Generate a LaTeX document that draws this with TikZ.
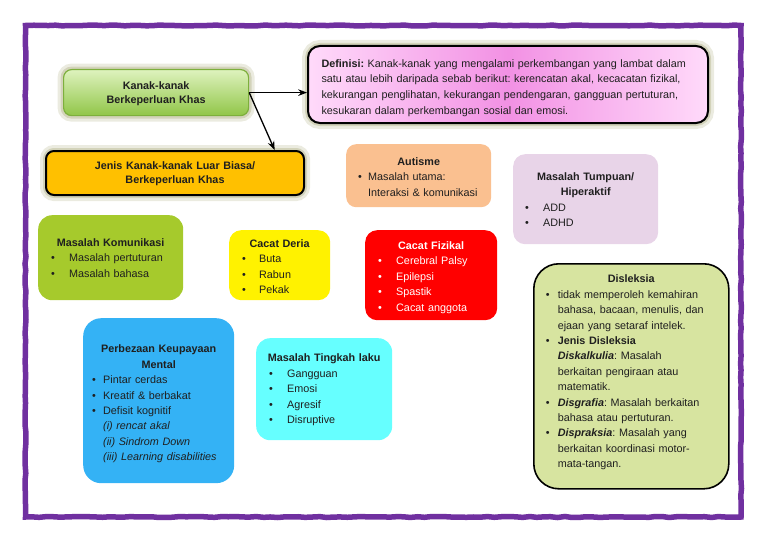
\documentclass[tikz,border=0pt]{standalone}
\usepackage{fontspec}
\setmainfont{Liberation Sans}
\usetikzlibrary{arrows.meta}
\usetikzlibrary{decorations.pathmorphing}
\usetikzlibrary{positioning}
\setlength{\parindent}{0pt}
\frenchspacing
\definecolor{framepurple}{RGB}{112,48,160}
\definecolor{glowolive}{RGB}{165,165,115}
\definecolor{kbktop}{RGB}{222,242,190}
\definecolor{kbkbottom}{RGB}{145,198,72}
\definecolor{kbkline}{RGB}{125,175,60}
\definecolor{defedge}{RGB}{255,218,250}
\definecolor{defmid}{RGB}{242,145,228}
\definecolor{jenisfill}{RGB}{255,192,0}
\definecolor{autfill}{RGB}{250,192,144}
\definecolor{tumfill}{RGB}{232,212,232}
\definecolor{disfill}{RGB}{215,228,160}
\definecolor{komfill}{RGB}{166,202,44}
\definecolor{perfill}{RGB}{52,178,245}
\definecolor{tinfill}{RGB}{102,255,255}
\newcommand{\ttl}[1]{\par\noindent\makebox[\hsize]{\bfseries #1}\par}
\newcommand{\bitem}[2]{\par\hangindent=#1\hangafter=1\noindent\makebox[#1][l]{\textbullet}#2\par}
\begin{document}
\begin{tikzpicture}[x=1pt, y=-1pt, >=Stealth,
    card/.style={rounded corners=#1, anchor=north west, inner ysep=0pt,
      text=black!88, font=\fontsize{10.8}{15.4}\selectfont},
    lift/.style={execute at end node={\endgraf\vspace*{#1}}},
    glow/.style={preaction={draw=glowolive, line width=12pt, opacity=0.22},
      preaction={draw=glowolive, line width=6pt, opacity=0.35}},
    link/.style={->, line width=1.3pt}]

    \useasboundingbox (0,0) rectangle (768,543);

    % border
    \pgfmathsetseed{7}
    \draw[framepurple, line width=5.5pt, decorate,
      decoration={random steps, segment length=7pt, amplitude=0.5pt}]
      (25.5,25.5) rectangle (741,517);

    % top row
    \node[card=8pt, glow, lift=4pt, draw=kbkline, line width=1.2pt, top color=kbktop, bottom color=kbkbottom,
      font=\fontsize{10.8}{14}\selectfont,
      minimum width=185pt, minimum height=46pt, text width=161pt, inner xsep=12pt] (kbk) at (63,69)
      {\ttl{Kanak-kanak}\ttl{Berkeperluan Khas}};

    \node[card=12pt, glow, lift=-7pt, draw=black, line width=2pt, left color=defedge, right color=defedge, middle color=defmid,
      font=\fontsize{10.8}{15.6}\selectfont,
      minimum width=400pt, minimum height=77pt, text width=373pt, inner xsep=13.5pt] (def) at (307,45)
      {\textbf{Definisi:} Kanak-kanak yang mengalami perkembangan yang lambat dalam\linebreak
       satu atau lebih daripada sebab berikut: kerencatan akal, kecacatan fizikal,\linebreak
       kekurangan penglihatan, kekurangan pendengaran, gangguan pertuturan,\linebreak
       kesukaran dalam perkembangan sosial dan emosi.\par};

    \node[card=8pt, glow, lift=4pt, draw=black, line width=2pt, fill=jenisfill,
      font=\fontsize{10.8}{14}\selectfont,
      minimum width=258pt, minimum height=44pt, text width=234pt, inner xsep=12pt] (jenis) at (45,150)
      {\ttl{Jenis Kanak-kanak Luar Biasa/}\ttl{Berkeperluan Khas}};

    \draw[link] (kbk.east) -- (kbk.east -| def.west);
    \draw[link] (kbk.east) -- (jenis.13);

    % kategori
    \node[card=10pt, lift=5pt, fill=autfill, minimum width=145pt, minimum height=63pt,
      text width=121pt, inner xsep=12pt] (autisme) at (346,144)
      {\ttl{Autisme}\bitem{10pt}{Masalah utama:\newline Interaksi \& komunikasi}};

    \node[card=12pt, lift=7pt, fill=tumfill, minimum width=145pt, minimum height=90pt,
      text width=121pt, inner xsep=12pt] (tumpuan) at (513,154)
      {\ttl{Masalah Tumpuan/}\ttl{Hiperaktif}\bitem{18pt}{ADD}\bitem{18pt}{ADHD}};

    \node[card=12pt, lift=3pt, fill=red, text=white, minimum width=132pt, minimum height=90pt,
      text width=106pt, inner xsep=13pt] (fizikal) at (365,230)
      {\ttl{Cacat Fizikal}\bitem{18pt}{Cerebral Palsy}\bitem{18pt}{Epilepsi}%
       \bitem{18pt}{Spastik}\bitem{18pt}{Cacat anggota}};

    \node[card=14pt, lift=7pt, fill=komfill, minimum width=145pt, minimum height=85pt,
      text width=119pt, inner xsep=13pt] (komunikasi) at (38,215)
      {\ttl{Masalah Komunikasi}\bitem{18pt}{Masalah pertuturan}\bitem{18pt}{Masalah bahasa}};

    \node[card=12pt, lift=5pt, fill=yellow, minimum width=101pt, minimum height=70pt,
      text width=75pt, inner xsep=13pt] (deria) at (229,230)
      {\ttl{Cacat Deria}\bitem{17pt}{Buta}\bitem{17pt}{Rabun}\bitem{17pt}{Pekak}};

    \node[card=18pt, lift=1pt, fill=perfill, minimum width=151pt, minimum height=165pt,
      text width=133pt, inner xsep=9pt] (perbezaan) at (83,318)
      {\ttl{Perbezaan Keupayaan}\ttl{Mental}\bitem{11pt}{Pintar cerdas}%
       \bitem{11pt}{Kreatif \& berbakat}%
       \bitem{11pt}{Defisit kognitif\newline\textit{(i) rencat akal}\newline\textit{(ii) Sindrom Down}\newline
       \textit{(iii) Learning disabilities}}};

    \node[card=14pt, lift=6pt, fill=tinfill, minimum width=136pt, minimum height=102pt,
      text width=110pt, inner xsep=13pt] (tingkah) at (256,338)
      {\ttl{Masalah Tingkah laku}\bitem{18pt}{Gangguan}\bitem{18pt}{Emosi}%
       \bitem{18pt}{Agresif}\bitem{18pt}{Disruptive}};

    \node[card=25pt, lift=15pt, draw=black, line width=1.6pt, fill=disfill, minimum width=195pt, minimum height=225pt,
      text width=171pt, inner xsep=12pt] (disleksia) at (533,263)
      {\ttl{Disleksia}%
       \bitem{12pt}{tidak memperoleh kemahiran\newline bahasa, bacaan, menulis, dan\newline ejaan yang setaraf intelek.}%
       \bitem{12pt}{\textbf{Jenis Disleksia}\newline\textbf{\textit{Diskalkulia}}: Masalah\newline berkaitan pengiraan atau\newline matematik.}%
       \bitem{12pt}{\textbf{\textit{Disgrafia}}: Masalah berkaitan\newline bahasa atau pertuturan.}%
       \bitem{12pt}{\textbf{\textit{Dispraksia}}: Masalah yang\newline berkaitan koordinasi motor-\newline mata-tangan.}};

\end{tikzpicture}
\end{document}
